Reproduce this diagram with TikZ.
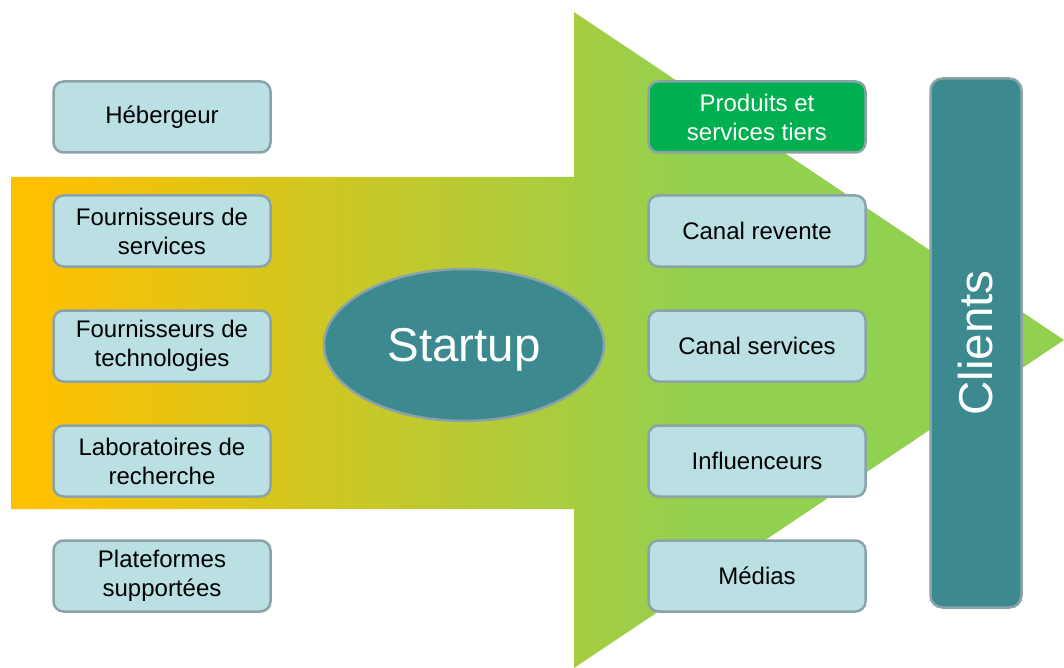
\documentclass[tikz,border=0pt]{standalone}
\usepackage{fontspec}
\setmainfont{Liberation Sans}
\usetikzlibrary{shapes.geometric}
\definecolor{arrorange}{HTML}{FFC000}
\definecolor{arrgreen}{HTML}{92D050}
\definecolor{boxfill}{HTML}{BAE0E3}
\definecolor{boxline}{HTML}{8BA3A8}
\definecolor{hubteal}{HTML}{3C8A8F}
\definecolor{tiersgreen}{HTML}{00B050}
\pgfdeclarehorizontalshading{flowarrow}{100bp}{color(0bp)=(arrorange); color(26bp)=(arrorange); color(57.7bp)=(arrgreen); color(100bp)=(arrgreen)}

\begin{document}
\begin{tikzpicture}[x=1pt,y=-1pt,
  partner/.style={draw=boxline, line width=2.5pt, fill=boxfill, rounded corners=10pt, minimum width=217pt, minimum height=71pt, align=center, inner sep=0pt, font=\fontsize{24}{29}\selectfont},
  third/.style={partner, fill=tiersgreen, text=white},
  hub/.style={ellipse, draw=boxline, line width=2.5pt, fill=hubteal, text=white, minimum width=280pt, minimum height=152pt, text depth=0pt, font=\fontsize{47.5}{57}\selectfont}]
  \useasboundingbox (0,0) rectangle (1064,668);
  % big arrow behind everything
  \path[shading=flowarrow] (11,177) -- (574,177) -- (574,12) -- (1064,340) -- (574,668) -- (574,509) -- (11,509) -- cycle;
  % left column
  \node (host)  at (162,117) [partner] {Hébergeur};
  \node (serv)  at (162,231) [partner] {Fournisseurs de\\services};
  \node (tech)  at (162,346) [partner] {Fournisseurs de\\technologies};
  \node (labs)  at (162,461) [partner] {Laboratoires de\\recherche};
  \node (plat)  at (162,576) [partner] {Plateformes\\supportées};
  % centre
  \node (start) at (464,345) [hub] {Startup};
  % right column
  \node (tiers) at (757,117) [third]   {Produits et\\services tiers};
  \node (resel) at (757,231) [partner] {Canal revente};
  \node (cserv) at (757,346) [partner] {Canal services};
  \node (infl)  at (757,461) [partner] {Influenceurs};
  \node (media) at (757,576) [partner] {Médias};
  \node (cli)   at (976,343) [draw=boxline, line width=2.5pt, fill=hubteal, text=white, rounded corners=12pt, rotate=90, minimum width=529pt, minimum height=91pt, font=\fontsize{47.5}{57}\selectfont] {Clients};
\end{tikzpicture}
\end{document}
